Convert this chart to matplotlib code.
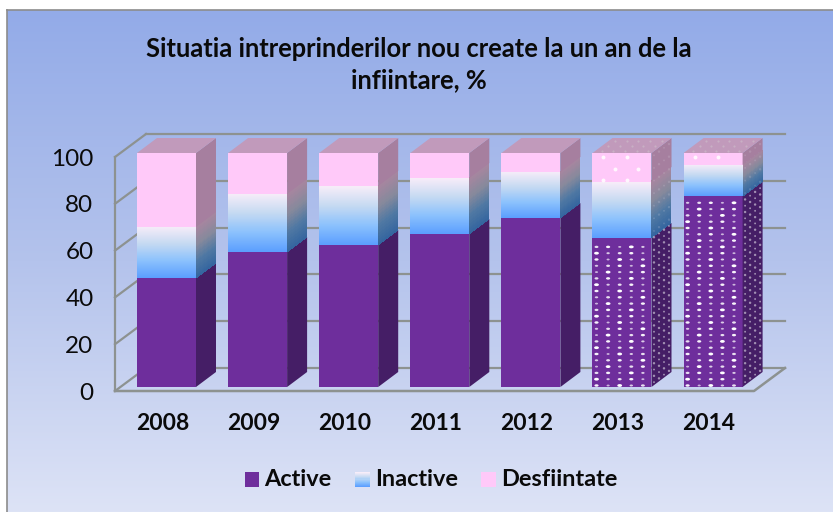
import numpy as np
import matplotlib
matplotlib.use("Agg")
import matplotlib.pyplot as plt
from matplotlib.colors import LinearSegmentedColormap
from matplotlib.legend_handler import HandlerBase
from matplotlib.patches import Patch, Rectangle, Polygon
from matplotlib.path import Path

years = ["2008", "2009", "2010", "2011", "2012", "2013", "2014"]
active = [46.6, 57.7, 60.7, 65.4, 72.2, 63.7, 81.6]
inactive = [21.8, 24.8, 25.2, 23.9, 19.7, 23.9, 13.3]
desfiintate = [31.6, 17.5, 14.1, 10.7, 8.1, 12.4, 5.1]
patterned = [False, False, False, False, False, True, True]
y_ticks = [0, 20, 40, 60, 80, 100]
title = "Situatia intreprinderilor nou create la un an de la\ninfiintare, %"

W, H = 833, 512
plt.rcParams["font.family"] = ["Lato", "DejaVu Sans"]
fig = plt.figure(figsize=(W / 100, H / 100), dpi=100, facecolor="white")

# background panel with a gradient, white margin at top and left
PL, PT = 7, 10
bg = fig.add_axes([PL / W, 0, (W - PL) / W, (H - PT) / H], zorder=0)
bg_cmap = LinearSegmentedColormap.from_list("bg", ["#93ABE8", "#B4C3EC", "#DDE3F6"])
bg.imshow(np.linspace(0, 1, 256).reshape(-1, 1), aspect="auto", cmap=bg_cmap, extent=[0, 1, 0, 1])
bg.set_xticks([])
bg.set_yticks([])
for name, s in bg.spines.items():
    s.set_visible(name in ("left", "top"))
    s.set_color("#8C8C8C")
    s.set_linewidth(1.2)

# plot area: front wall plane in pixels
L, R, B, T = 115, 754, 391, 157
ax = fig.add_axes([L / W, 1 - B / H, (R - L) / W, (B - T) / H], zorder=1)
step = 91.1
x0 = 162.3
ax.set_xlim((L - x0) / step, (R - x0) / step)
ax.set_ylim(0, 100)
ax.patch.set_alpha(0)
for s in ax.spines.values():
    s.set_visible(False)
px = 1 / step          # one pixel on x in data units
py = 100 / (B - T)     # one pixel on y in data units
xl, xr = ax.get_xlim()

GRID = "#8D9290"
wall_dx, wall_dy = 31 * px, 23 * py
for v in y_ticks:
    ax.plot([xl + wall_dx, xr + wall_dx], [v + wall_dy] * 2, color=GRID, lw=1.6, clip_on=False, zorder=1)
    ax.plot([xl, xl + wall_dx], [v, v + wall_dy], color=GRID, lw=1.6, clip_on=False, zorder=1)
ax.plot([xl, xl], [0, 100], color=GRID, lw=1.6, clip_on=False, zorder=1)
ax.plot([xl, xr, xr + wall_dx], [0, 0, wall_dy], color=GRID, lw=1.8, clip_on=False, zorder=1)

bar_w = 59 * px
shift = 4.2 * px
lift = 4 * py
dx, dy = 20 * px, 15 * py

grad_front = LinearSegmentedColormap.from_list("f", ["#F7EDF9", "#C6DAF2", "#8CC2FD", "#5C9FFF"])
grad_side = LinearSegmentedColormap.from_list("s", ["#A5869F", "#86899C", "#4F78A3", "#34659F"])
dot_marker = Path(Path.unit_circle().vertices * [1.35, 0.8], Path.unit_circle().codes)


def side_face(x, y0, y1, color, z):
    ax.add_patch(Polygon([(x, y0), (x + dx, y0 + dy), (x + dx, y1 + dy), (x, y1)],
                         closed=True, fc=color, ec="none", clip_on=False, zorder=z))


for i in range(len(years)):
    z = 3 + i
    x = i + shift - bar_w / 2
    b0 = lift
    b1 = b0 + active[i]
    b2 = b1 + inactive[i]
    b3 = b2 + desfiintate[i]

    # front faces
    ax.add_patch(Rectangle((x, b0), bar_w, active[i], fc="#6E2E9C", ec="none", clip_on=False, zorder=z))
    ax.imshow(np.linspace(0, 1, 64).reshape(-1, 1), cmap=grad_front, aspect="auto",
              extent=[x, x + bar_w, b1, b2], origin="upper", clip_on=False, zorder=z)
    ax.add_patch(Rectangle((x, b2), bar_w, desfiintate[i], fc="#FFC9F9", ec="none", clip_on=False, zorder=z))

    # side faces
    xs = x + bar_w
    side_face(xs, b0, b1, "#451E66", z)
    X = np.array([[xs, xs + dx]] * 41)
    t = np.linspace(0, 1, 41)
    Y = np.column_stack([b1 + t * inactive[i], b1 + t * inactive[i] + dy])
    C = np.linspace(1, 0, 40).reshape(-1, 1)
    ax.pcolormesh(X, Y, C, cmap=grad_side, vmin=0, vmax=1, shading="flat", clip_on=False, zorder=z)
    side_face(xs, b2, b3, "#A67F9F", z)

    # top face
    ax.add_patch(Polygon([(x, b3), (xs, b3), (xs + dx, b3 + dy), (x + dx, b3 + dy)],
                         closed=True, fc="#C19ABB", ec="none", clip_on=False, zorder=z))

    if patterned[i]:
        # purple front: regular grid of small dashes
        fx, fy, fs, fa = [], [], [], []
        for r in range(int(active[i] / py / 6.3)):
            yy = b0 + (r * 6.3 + 1.5) * py
            for c in range(5):
                k = (c + 2 * r) % 5
                fx.append(x + (4 + c * 11.6) * px)
                fy.append(yy)
                fs.append([9, 5, 12, 6, 8][k])
                fa.append([0.95, 0.65, 1.0, 0.75, 0.85][k])
        ax.scatter(fx, fy, s=fs, color=[(1, 1, 1, a) for a in fa], marker=dot_marker,
                   linewidths=0, clip_on=False, zorder=z + 0.5)

        # pink front: sparse staggered dots
        px_dots, py_dots = [], []
        for r in range(int(desfiintate[i] / py / 11.7) + 1):
            yy = b3 - (4 + r * 11.7) * py
            if yy < b2:
                continue
            for c in range(3):
                xx = (11 + (r % 2) * 11.6 + c * 23.2)
                if xx < 57:
                    px_dots.append(x + xx * px)
                    py_dots.append(yy)
        ax.scatter(px_dots, py_dots, s=8, color=(1, 1, 1, 0.85), marker="o",
                   linewidths=0, clip_on=False, zorder=z + 0.5)

        # side face: fainter grid following the perspective
        sx, sy, ss, sa = [], [], [], []
        for r in range(int((b3 - b0) / py / 6.3)):
            for c in range(4):
                off = 2.5 + c * 5
                yy = b0 + (r * 6.3 + 3) * py
                if yy > b1 and r % 2:
                    continue
                sx.append(xs + off * px)
                sy.append(yy + off * 0.75 * py)
                ss.append(3 if (c + r) % 2 else 1.8)
                sa.append(0.6 if yy < b1 else 0.18)
        ax.scatter(sx, sy, s=ss, color=[(0.88, 0.86, 0.9, a) for a in sa], marker="o",
                   linewidths=0, clip_on=False, zorder=z + 0.5)

        # top face: faint dots
        tx, ty = [], []
        for r in range(3):
            for c in range(5):
                d = 2.5 + r * 5
                tx.append(x + (6 + c * 11.6 + d * 20 / 15) * px)
                ty.append(b3 + d * py)
        ax.scatter(tx, ty, s=2.5, color=(0.86, 0.9, 0.86, 0.3), marker="o",
                   linewidths=0, clip_on=False, zorder=z + 0.5)

ax.set_xlim(xl, xr)
ax.set_ylim(0, 100)
ax.set_xticks(range(len(years)), years)
ax.set_yticks(y_ticks, [str(v) for v in y_ticks])
ax.tick_params(axis="x", length=0, pad=16, labelsize=16.5, colors="#0A0A0A")
ax.tick_params(axis="y", length=0, pad=15.5, labelsize=17.5, colors="#0A0A0A")
for lab in ax.get_xticklabels():
    lab.set_fontweight("bold")

fig.text(419 / W, 1 - 65 / H, title, ha="center", va="center", fontsize=18.4, fontweight="bold",
         color="#0A0A0A", linespacing=1.36, zorder=5)


class GradHandler(HandlerBase):
    def create_artists(self, legend, orig, xd, yd, width, height, fontsize, trans):
        n = 14
        out = []
        for k in range(n):
            out.append(Rectangle((xd, yd + height * k / n), width, height / n + 0.2,
                                 fc=grad_front(1 - k / (n - 1)), ec="none", transform=trans))
        return out


class SquareHandler(HandlerBase):
    def create_artists(self, legend, orig, xd, yd, width, height, fontsize, trans):
        return [Rectangle((xd, yd), width, height, fc=orig.get_facecolor(), ec="none", transform=trans)]


h_act = Patch(fc="#6E2E9C")
h_ina = Patch(fc="#86BFFD")
h_des = Patch(fc="#FFC9F9")
leg = fig.legend([h_act, h_ina, h_des], ["Active", "Inactive", "Desfiintate"],
                 handler_map={h_act: SquareHandler(), h_ina: GradHandler(), h_des: SquareHandler()},
                 loc="center", bbox_to_anchor=(431 / W, 1 - 480 / H), ncol=3, frameon=False,
                 prop={"weight": "bold", "size": 16.9}, handlelength=0.62, handleheight=0.62,
                 handletextpad=0.23, columnspacing=0.99, labelcolor="#0A0A0A")
leg.set_zorder(5)

fig.savefig("out.png", dpi=100, facecolor="white")
